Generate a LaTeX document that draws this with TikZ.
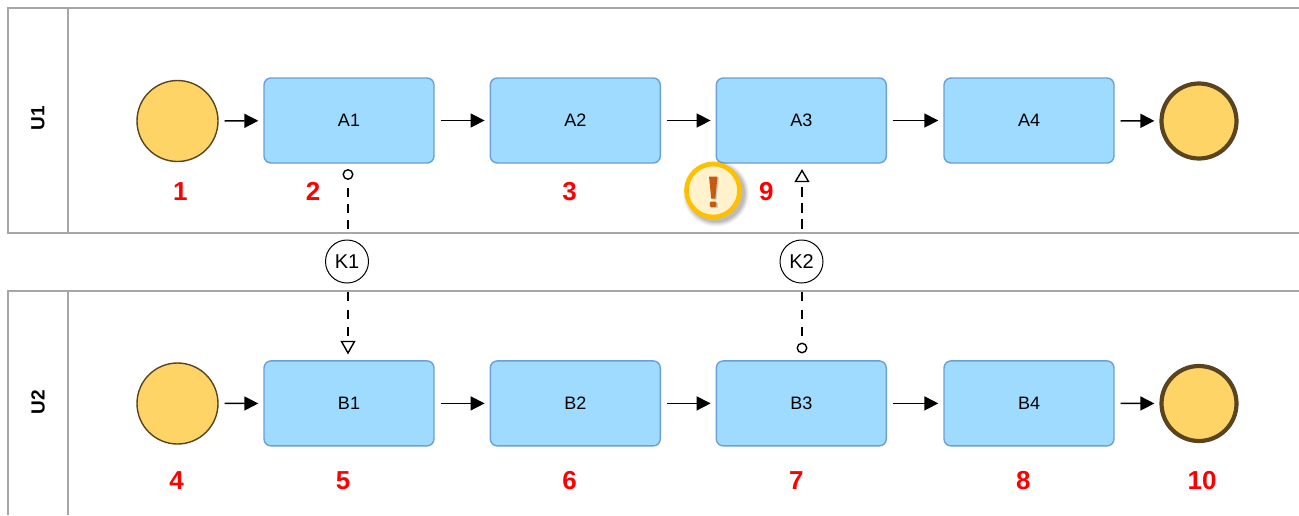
\documentclass[tikz,border=0pt]{standalone}
\usepackage{fontspec}
\setmainfont{Liberation Sans}
\usetikzlibrary{arrows.meta,shapes.geometric}
\definecolor{lanegray}{HTML}{A6A6A6}
\definecolor{boxfill}{HTML}{9FDBFF}
\definecolor{boxline}{HTML}{6C9FD2}
\definecolor{evfill}{HTML}{FFD466}
\definecolor{evline}{HTML}{59441F}
\definecolor{ringc}{HTML}{FFC000}
\definecolor{warnfill}{HTML}{FFF2CC}
\definecolor{warnmark}{HTML}{C55A11}
\tikzset{
  x=1pt,y=-1pt,
  lane/.style={draw=lanegray,line width=1.6pt},
  task/.style={draw=boxline,fill=boxfill,line width=1.4pt,rounded corners=7pt,minimum width=170pt,minimum height=85pt,inner sep=0pt,font=\fontsize{18}{20}\selectfont},
  startev/.style={circle,draw=evline,fill=evfill,line width=1.4pt,minimum size=81pt,inner sep=0pt},
  endev/.style={circle,draw=evline,fill=evfill,line width=4.2pt,minimum size=75pt,inner sep=0pt},
  flow/.style={draw=black,line width=1.5pt,-{Triangle[length=14pt,width=14pt]},shorten <=6pt,shorten >=5pt},
  msg/.style={draw=black,line width=1.4pt,dash pattern=on 9.5pt off 6.5pt},
  keynode/.style={circle,draw=black,fill=white,line width=1pt,minimum size=43pt,inner sep=0pt,font=\fontsize{20}{22}\selectfont},
  port/.style={circle,draw=black,fill=white,line width=1.4pt,minimum size=9.5pt,inner sep=0pt},
  tri/.style={draw=black,fill=white,line width=1.4pt,line join=miter},
  num/.style={text=red,font=\bfseries\fontsize{26}{30}\selectfont,inner sep=0pt},
  lanelabel/.style={rotate=90,font=\fontsize{19}{20}\selectfont\bfseries,inner sep=0pt}
}
\begin{document}
\begin{tikzpicture}
\useasboundingbox (0,0) rectangle (1299,515);
% lanes
\draw[lane] (1299,8) -- (8,8) -- (8,233) -- (1299,233);
\draw[lane] (68,8) -- (68,233);
\draw[lane] (1299,291) -- (8,291) -- (8,515);
\draw[lane] (68,291) -- (68,515);
\node[lanelabel] (u1) at (38,118.5) {U1};
\node[lanelabel] (u2) at (38,402.5) {U2};
% row 1
\node[startev] (s1) at (177.5,121) {};
\node[task] (a1) at (349,120.5) {A1};
\node[task] (a2) at (575.3,120.5) {A2};
\node[task] (a3) at (801.3,120.5) {A3};
\node[task] (a4) at (1029,120.5) {A4};
\node[endev] (e1) at (1199,121) {};
% row 2
\node[startev] (s2) at (177.5,403.5) {};
\node[task] (b1) at (349,403.4) {B1};
\node[task] (b2) at (575.3,403.4) {B2};
\node[task] (b3) at (801.3,403.4) {B3};
\node[task] (b4) at (1029,403.4) {B4};
\node[endev] (e2) at (1199,403.5) {};
% flows
\foreach \p/\q in {s1/a1,a1/a2,a2/a3,a3/a4,a4/e1,s2/b1,b1/b2,b2/b3,b3/b4,b4/e2}
  \draw[flow] (\p) -- (\q);
% key nodes
\node[keynode] (k1) at (347,261.5) {K1};
\node[keynode] (k2) at (801.5,261.5) {K2};
% message ports
\node[port] (p1) at (348,174.5) {};
\node[port] (p2) at (802,348) {};
\coordinate (k1s) at (348,187.5);
\coordinate (k1a) at (348,233);
\coordinate (k1b) at (348,292);
\coordinate (k1c) at (348,337);
\coordinate (k2a) at (802,232);
\coordinate (k2b) at (802,292);
\coordinate (k2c) at (802,187);
\coordinate (k2d) at (802,336);
\draw[msg] (k1s) -- (k1a);
\draw[msg,dash pattern=on 9pt off 8.5pt] (k1b) -- (k1c);
\draw[msg] (k2c) -- (k2a);
\draw[msg,dash pattern=on 9pt off 8.5pt] (k2b) -- (k2d);
\draw[tri] (341.5,341.5) -- (354.5,341.5) -- (348,353) -- cycle;
\draw[tri] (795.5,181.5) -- (808.5,181.5) -- (802,170.5) -- cycle;
% warning badge
\foreach \r/\o in {33/0.04,32/0.05,31/0.06,30/0.07,29/0.08}
  \fill[black,opacity=\o] (716,193.5) circle[radius=\r pt];
\node[circle,draw=ringc,fill=warnfill,line width=4.6pt,minimum size=53pt,inner sep=0pt] (warn) at (713,190.5) {};
\fill[black!30,opacity=.6] (710.5,177.5) -- (719,177.5) -- (716.5,199.5) -- (712.5,199.5) -- cycle;
\fill[black!30,opacity=.6] (711,202.5) rectangle (717.5,208);
\fill[warnmark] (709,176.5) -- (717.5,176.5) -- (715.3,198.5) -- (711.2,198.5) -- cycle;
\fill[warnmark,rounded corners=1pt] (709.8,201.5) rectangle (716.3,207);
% numbers
\node[num] (n1) at (180.3,191.5) {1};
\node[num] (n2) at (313,191.5) {2};
\node[num] (n3) at (569.5,191.5) {3};
\node[num] (n9) at (766.3,191.5) {9};
\node[num] (n4) at (176.5,480.5) {4};
\node[num] (n5) at (343,480.5) {5};
\node[num] (n6) at (569.5,480.5) {6};
\node[num] (n7) at (796.3,480.5) {7};
\node[num] (n8) at (1023.3,480.5) {8};
\node[num] (n10) at (1202,480.5) {10};
\end{tikzpicture}
\end{document}
